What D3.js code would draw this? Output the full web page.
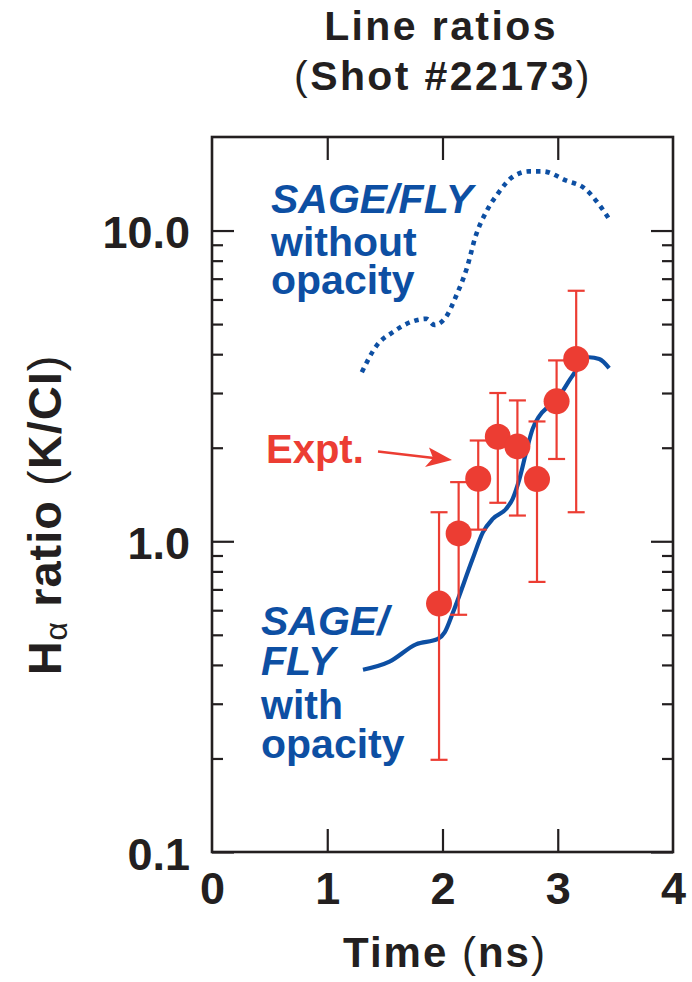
<!DOCTYPE html>
<html><head><meta charset="utf-8">
<script src="https://cdn.jsdelivr.net/npm/d3@7"></script>
<style>
html,body{margin:0;padding:0;background:#fff;}
svg{display:block;font-family:"Liberation Sans",Arial,Helvetica,sans-serif;}
</style></head>
<body>
<script>
// ---- data ----
const xTicks = [0, 1, 2, 3, 4];
const yMajor = [0.1, 1, 10];
const yMajorLabels = ["0.1", "1.0", "10.0"];
const yMinor = [0.2,0.3,0.4,0.5,0.6,0.7,0.8,0.9,2,3,4,5,6,7,8,9];

// SAGE/FLY with opacity (solid)
const withT = [1.31, 1.54, 1.77, 1.96, 2.02, 2.09, 2.26, 2.349, 2.436, 2.551, 2.609, 2.667, 2.725, 2.782, 2.84, 2.926, 3.013, 3.128, 3.273, 3.36, 3.446];
const withV = [0.386, 0.41, 0.466, 0.485, 0.51, 0.589, 0.875, 1.066, 1.18, 1.27, 1.37, 1.585, 1.93, 2.30, 2.53, 2.73, 2.94, 3.41, 3.91, 3.86, 3.61];

// SAGE/FLY without opacity (dotted)
const withoutT = [1.30, 1.43, 1.57, 1.74, 1.86, 1.93, 2.03, 2.12, 2.21, 2.29, 2.38, 2.49, 2.61, 2.75, 2.87, 3.07, 3.24, 3.36, 3.46];
const withoutV = [3.5, 4.27, 4.71, 5.1, 5.2, 4.97, 5.27, 6.18, 7.54, 9.66, 11.5, 13.3, 14.9, 15.5, 15.5, 14.5, 13.6, 12.1, 10.7];

// Experiment
const exptT  = [1.97, 2.14, 2.31, 2.48, 2.65, 2.82, 2.99, 3.16];
const exptV  = [0.63, 1.06, 1.59, 2.17, 2.02, 1.585, 2.82, 3.86];
const exptHi = [1.24, 1.55, 2.11, 3.0, 2.84, 2.43, 3.82, 6.4];
const exptLo = [0.198, 0.58, 1.09, 1.33, 1.21, 0.74, 1.84, 1.24];

// ---- layout ----
const W = 692, H = 982;
const L = 212, R = 673, T = 137, B = 852;
const BLUE = "#0d4fa3", RED = "#ec3d33", INK = "#231f20";

const svg = d3.select("body").append("svg").attr("width", W).attr("height", H);
const x = d3.scaleLinear().domain([0, 4]).range([L, R]);
const y = d3.scaleLog().domain([0.1, 20]).range([B, T]);

// title
svg.append("text").attr("x", 441).attr("y", 40).attr("text-anchor", "middle")
  .attr("font-size", 41).attr("font-weight", "bold").attr("letter-spacing", 2.4).attr("fill", INK)
  .text("Line ratios");
const t2 = svg.append("text").attr("x", 443).attr("y", 90).attr("text-anchor", "middle")
  .attr("font-size", 41).attr("font-weight", "bold").attr("letter-spacing", 2.4).attr("fill", INK);
t2.append("tspan").attr("font-weight", "normal").text("(");
t2.append("tspan").text("Shot #22173");
t2.append("tspan").attr("font-weight", "normal").text(")");

// frame
const g = svg.append("g");
g.append("rect").attr("x", L).attr("y", T).attr("width", R - L).attr("height", B - T)
  .attr("fill", "none").attr("stroke", INK).attr("stroke-width", 2.6);

// axes via d3
const axStyle = sel => {
  sel.select(".domain").remove();
  sel.selectAll(".tick line").attr("stroke", INK).attr("stroke-width", 2.2);
  sel.selectAll(".tick text").attr("fill", INK).attr("font-size", 45).attr("font-weight", "bold")
    .attr("font-family", "Liberation Sans, Arial, sans-serif");
};
// left majors with labels
g.append("g").attr("transform", `translate(${L},0)`)
  .call(d3.axisLeft(y).tickValues(yMajor).tickSize(-22).tickPadding(22)
    .tickFormat((d, i) => yMajorLabels[i]))
  .call(axStyle)
  .call(s => s.selectAll(".tick text").attr("dy", "0.38em"));
// left minors
g.append("g").attr("transform", `translate(${L},0)`)
  .call(d3.axisLeft(y).tickValues(yMinor).tickSize(-11).tickFormat(""))
  .call(axStyle);
// right majors/minors
g.append("g").attr("transform", `translate(${R},0)`)
  .call(d3.axisRight(y).tickValues(yMajor).tickSize(-22).tickFormat(""))
  .call(axStyle);
g.append("g").attr("transform", `translate(${R},0)`)
  .call(d3.axisRight(y).tickValues(yMinor).tickSize(-11).tickFormat(""))
  .call(axStyle);
// bottom
g.append("g").attr("transform", `translate(0,${B})`)
  .call(d3.axisBottom(x).tickValues(xTicks).tickSize(-23).tickPadding(20).tickFormat(d3.format("d")))
  .call(axStyle)
  .call(s => s.selectAll(".tick text").attr("dy", "0.72em"))
  .call(s => s.selectAll(".tick").filter(d => d === 0 || d === 4).select("line").remove());
// top
g.append("g").attr("transform", `translate(0,${T})`)
  .call(d3.axisTop(x).tickValues([1, 2, 3]).tickSize(-23).tickFormat(""))
  .call(axStyle);

// axis titles
svg.append("text").attr("x", 445).attr("y", 967).attr("text-anchor", "middle")
  .attr("font-size", 42).attr("font-weight", "bold").attr("letter-spacing", 2).attr("fill", INK)
  .call(t => {
    t.append("tspan").text("Time ");
    t.append("tspan").attr("font-weight", "normal").text("(");
    t.append("tspan").text("ns");
    t.append("tspan").attr("font-weight", "normal").text(")");
  });
const yl = svg.append("text").attr("transform", "translate(61,515) rotate(-90)")
  .attr("text-anchor", "middle").attr("font-size", 47).attr("font-weight", "bold")
  .attr("letter-spacing", 1).attr("fill", INK);
yl.append("tspan").text("H");
yl.append("tspan").attr("font-size", 32).attr("font-weight", "normal").attr("dy", 6).text("α");
yl.append("tspan").attr("dy", -6).text(" ratio ");
yl.append("tspan").attr("font-weight", "normal").text("(");
yl.append("tspan").text("K/CI");
yl.append("tspan").attr("font-weight", "normal").text(")");

// curves
const line = d3.line().x(d => x(d[0])).y(d => y(d[1])).curve(d3.curveMonotoneX);
g.append("path").datum(withoutT.map((t, i) => [t, withoutV[i]]))
  .attr("d", line).attr("fill", "none").attr("stroke", BLUE)
  .attr("stroke-width", 4.6).attr("stroke-dasharray", "4.5,5");
g.append("path").datum(withT.map((t, i) => [t, withV[i]]))
  .attr("d", line).attr("fill", "none").attr("stroke", BLUE).attr("stroke-width", 4.2);

// experimental points with error bars
const ex = exptT.map((t, i) => ({t, v: exptV[i], hi: exptHi[i], lo: exptLo[i]}));
const eb = g.append("g").attr("stroke", RED).attr("stroke-width", 2.2);
eb.selectAll(".v").data(ex).join("line")
  .attr("x1", d => x(d.t)).attr("x2", d => x(d.t)).attr("y1", d => y(d.lo)).attr("y2", d => y(d.hi));
eb.selectAll(".ch").data(ex).join("line")
  .attr("x1", d => x(d.t) - 8.5).attr("x2", d => x(d.t) + 8.5).attr("y1", d => y(d.hi)).attr("y2", d => y(d.hi));
eb.selectAll(".cl").data(ex).join("line")
  .attr("x1", d => x(d.t) - 8.5).attr("x2", d => x(d.t) + 8.5).attr("y1", d => y(d.lo)).attr("y2", d => y(d.lo));
g.append("g").selectAll("circle").data(ex).join("circle")
  .attr("cx", d => x(d.t)).attr("cy", d => y(d.v)).attr("r", 13).attr("fill", RED);

// annotations
const ann = (lines, x0, ys, italic, color) => {
  lines.forEach((s, i) => {
    svg.append("text").attr("x", x0).attr("y", ys[i]).attr("font-size", 41)
      .attr("font-weight", "bold").attr("font-style", italic[i] ? "italic" : "normal")
      .attr("fill", color).text(s);
  });
};
ann(["SAGE/FLY", "without", "opacity"], 271, [213, 256, 294], [true, false, false], BLUE);
ann(["SAGE/", "FLY", "with", "opacity"], 261, [635, 675, 719, 758], [true, true, false, false], BLUE);
svg.append("text").attr("x", 266).attr("y", 463).attr("font-size", 40).attr("font-weight", "bold")
  .attr("fill", RED).text("Expt.");
svg.append("line").attr("x1", 378).attr("y1", 451.5).attr("x2", 438).attr("y2", 458.5)
  .attr("stroke", RED).attr("stroke-width", 2.4);
svg.append("path").attr("d", "M452,460 L429,447.5 L433,458 L425,467 Z").attr("fill", RED);
</script>
</body></html>
